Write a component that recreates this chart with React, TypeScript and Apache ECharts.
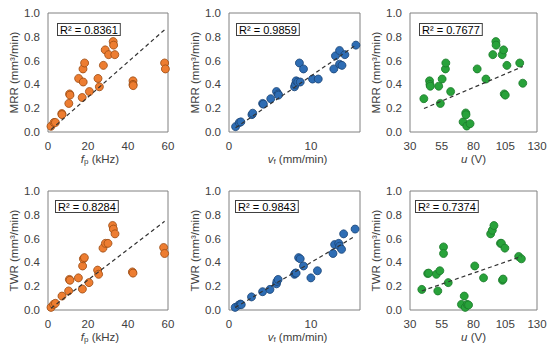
import React, { useEffect, useRef } from "react";
import * as echarts from "echarts";

// Panel 1: fp vs MRR
const fpMRR = [1.5, 3.0, 3.7, 6.9, 7.0, 10.4, 10.8, 11.0, 15.3, 17.1, 17.5, 18.3, 17.6, 20.7, 25.0, 25.7, 27.7, 28.6, 30.3, 32.6, 32.8, 33.4, 42.5, 42.5, 42.6, 58.3, 58.7];
const mrrFp = [0.048, 0.08, 0.08, 0.155, 0.146, 0.24, 0.32, 0.31, 0.45, 0.29, 0.53, 0.58, 0.42, 0.34, 0.45, 0.38, 0.56, 0.69, 0.65, 0.76, 0.73, 0.65, 0.43, 0.40, 0.39, 0.58, 0.53];
const trendFpMRR = [[1.5, 0.02], [58.7, 0.865]];

// Panel 2: vf vs MRR
const vfMRR = [0.8, 1.25, 1.45, 2.8, 2.9, 4.1, 4.2, 5.1, 5.8, 6.0, 6.05, 8.0, 8.1, 8.2, 8.4, 8.7, 8.6, 9.1, 10.2, 10.9, 12.8, 13.0, 13.5, 13.5, 13.8, 14.15, 15.5];
const mrrVf = [0.045, 0.079, 0.085, 0.146, 0.158, 0.24, 0.234, 0.28, 0.34, 0.32, 0.31, 0.38, 0.40, 0.43, 0.42, 0.42, 0.58, 0.53, 0.445, 0.445, 0.53, 0.64, 0.685, 0.57, 0.56, 0.65, 0.73];
const trendVfMRR = [[0.8, 0.035], [15.5, 0.73]];

// Panel 3: u vs MRR
const uMRR = [40.9, 45.4, 45.7, 46.0, 52.6, 53.9, 55.3, 57.9, 58.2, 62.0, 71.8, 73.9, 74.1, 74.7, 77.3, 82.9, 89.8, 95.2, 97.6, 97.8, 102.6, 103.7, 104.2, 105.0, 106.3, 116.4, 118.8];
const mrrU = [0.28, 0.43, 0.40, 0.385, 0.385, 0.24, 0.445, 0.53, 0.58, 0.34, 0.085, 0.16, 0.145, 0.05, 0.07, 0.53, 0.445, 0.65, 0.76, 0.73, 0.65, 0.69, 0.32, 0.31, 0.56, 0.58, 0.41];
const trendUMRR = [[41, 0.197], [118.8, 0.55]];

// Panel 4: fp vs TWR
const fpTWR = [1.5, 2.8, 3.7, 7.0, 10.3, 10.7, 11.0, 15.2, 17.2, 17.3, 17.7, 18.2, 20.5, 24.8, 25.3, 27.5, 28.7, 30.0, 32.3, 32.7, 33.5, 42.2, 42.5, 57.8, 58.3];
const twrFp = [0.022, 0.047, 0.056, 0.117, 0.16, 0.257, 0.25, 0.27, 0.176, 0.37, 0.43, 0.44, 0.23, 0.335, 0.30, 0.52, 0.56, 0.56, 0.71, 0.68, 0.64, 0.32, 0.31, 0.525, 0.475];
const trendFpTWR = [[1.5, 0.015], [58.3, 0.745]];

// Panel 5: vf vs TWR
const vfTWR = [0.75, 1.2, 1.4, 1.5, 2.75, 4.1, 5.0, 5.8, 5.85, 6.0, 8.0, 8.1, 8.2, 8.5, 8.7, 9.1, 10.0, 10.8, 12.7, 12.9, 13.4, 13.5, 13.75, 14.0, 15.4];
const twrVf = [0.022, 0.042, 0.05, 0.045, 0.11, 0.154, 0.173, 0.22, 0.24, 0.257, 0.30, 0.31, 0.31, 0.44, 0.43, 0.37, 0.27, 0.33, 0.475, 0.55, 0.56, 0.535, 0.51, 0.64, 0.68];
const trendVfTWR = [[0.75, 0.02], [15.4, 0.62]];

// Panel 6: u vs TWR
const uTWR = [39.3, 43.9, 44.7, 50.8, 51.9, 53.5, 56.4, 56.4, 60.1, 70.5, 72.7, 73.5, 75.0, 76.1, 81.0, 87.9, 93.5, 94.8, 96.1, 101.2, 102.0, 102.8, 103.3, 104.7, 115.6, 117.7];
const twrU = [0.173, 0.307, 0.31, 0.30, 0.16, 0.33, 0.53, 0.475, 0.23, 0.047, 0.117, 0.022, 0.047, 0.042, 0.37, 0.27, 0.64, 0.67, 0.71, 0.56, 0.56, 0.25, 0.26, 0.52, 0.45, 0.43];
const trendUTWR = [[39.3, 0.16], [117.7, 0.45]];

const r2Labels = ["R² = 0.8361", "R² = 0.9859", "R² = 0.7677", "R² = 0.8284", "R² = 0.9843", "R² = 0.7374"];
const yNames = ["MRR (mm³/min)", "TWR (mm³/min)"];

const FONT = "'Liberation Sans', Arial, sans-serif";
const TXT = "#404040";

const zip = (xs: number[], ys: number[]) => xs.map((x, i) => [x, ys[i]]);

export default function App() {
  const ref = useRef<HTMLDivElement>(null);
  useEffect(() => {
    if (!ref.current) return;
    const chart = echarts.init(ref.current, undefined, { renderer: "svg" });

    const cols = [
      { left: 48, width: 120, min: 0, max: 60, interval: 20, color: "#ED7D31", border: "#9A4A12", xname: "{it|f}{sub|p}{n| (kHz)}", pad: [0, 16, 0, 0] },
      { left: 229, width: 131, min: 0, max: 16, interval: 10, color: "#2E6DB4", border: "#1B4475", xname: "{it|v}{sub|f}{n| (mm/min)}", pad: [0, 0, 0, 6] },
      { left: 410, width: 127, min: 30, max: 130, interval: 25, color: "#28A23A", border: "#1C7A2B", xname: "{it|u}{n| (V)}", pad: [0, 0, 0, 0] },
    ];
    const rows = [{ top: 13, height: 119 }, { top: 191, height: 119 }];

    const panels = [
      { xs: fpMRR, ys: mrrFp, t: trendFpMRR },
      { xs: vfMRR, ys: mrrVf, t: trendVfMRR },
      { xs: uMRR, ys: mrrU, t: trendUMRR },
      { xs: fpTWR, ys: twrFp, t: trendFpTWR },
      { xs: vfTWR, ys: twrVf, t: trendVfTWR },
      { xs: uTWR, ys: twrU, t: trendUTWR },
    ];

    const grid: any[] = [];
    const xAxis: any[] = [];
    const yAxis: any[] = [];
    const series: any[] = [];
    const graphic: any[] = [];

    const r2Pos = [
      [57, 23], [236, 23], [419, 23],
      [55, 200], [235, 200], [415, 200],
    ];

    panels.forEach((p, i) => {
      const r = Math.floor(i / 3);
      const c = i % 3;
      const col = cols[c];
      const row = rows[r];
      grid.push({
        left: col.left, top: row.top, width: col.width, height: row.height,
        show: true, borderColor: "#808080", borderWidth: 1, backgroundColor: "transparent",
      });
      xAxis.push({
        type: "value", gridIndex: i, min: col.min, max: col.max, interval: col.interval,
        axisLine: { show: false }, axisTick: { show: false }, splitLine: { show: false },
        axisLabel: { color: TXT, fontSize: 11.5, fontFamily: FONT, margin: 8, showMaxLabel: c !== 1 },
        name: col.xname, nameLocation: "middle", nameGap: 17,
        nameTextStyle: {
          color: TXT, fontFamily: FONT, fontSize: 11.5, padding: col.pad,
          rich: {
            it: { fontStyle: "italic", fontSize: 11.5, fontFamily: FONT, color: TXT, lineHeight: 14 },
            sub: { fontSize: 8, fontFamily: FONT, color: TXT, verticalAlign: "bottom", lineHeight: 14 },
            n: { fontSize: 11.5, fontFamily: FONT, color: TXT, lineHeight: 14 },
          },
        },
      });
      yAxis.push({
        type: "value", gridIndex: i, min: 0, max: 1, interval: 0.2,
        axisLine: { show: false }, axisTick: { show: false }, splitLine: { show: false },
        axisLabel: { color: TXT, fontSize: 11.5, fontFamily: FONT, margin: 8, formatter: (v: number) => v.toFixed(1) },
        name: yNames[r], nameLocation: "middle", nameRotate: 90, nameGap: 28,
        nameTextStyle: { color: TXT, fontSize: 11.5, fontFamily: FONT },
      });
      series.push({
        type: "line", xAxisIndex: i, yAxisIndex: i, data: p.t, symbol: "none",
        lineStyle: { color: "#333", width: 1.2, type: [4, 3] }, z: 3, silent: true,
      });
      series.push({
        type: "scatter", xAxisIndex: i, yAxisIndex: i, data: zip(p.xs, p.ys),
        symbolSize: 8, itemStyle: { color: col.color, borderColor: col.border, borderWidth: 0.8, opacity: 1 }, z: 2,
      });
      graphic.push({
        type: "text", left: r2Pos[i][0], top: r2Pos[i][1],
        style: {
          text: r2Labels[i], fill: "#000", fontSize: 11, fontFamily: FONT,
          backgroundColor: "#fff", borderColor: "#404040", borderWidth: 1, padding: [0, 2, 0, 2],
        },
        z: 10,
      });
    });

    chart.setOption({
      animation: false,
      backgroundColor: "#fff",
      grid, xAxis, yAxis, series, graphic,
    });
    return () => chart.dispose();
  }, []);
  return <div ref={ref} style={{ position: "absolute", left: 0, top: 0, width: 550, height: 349 }} />;
}
